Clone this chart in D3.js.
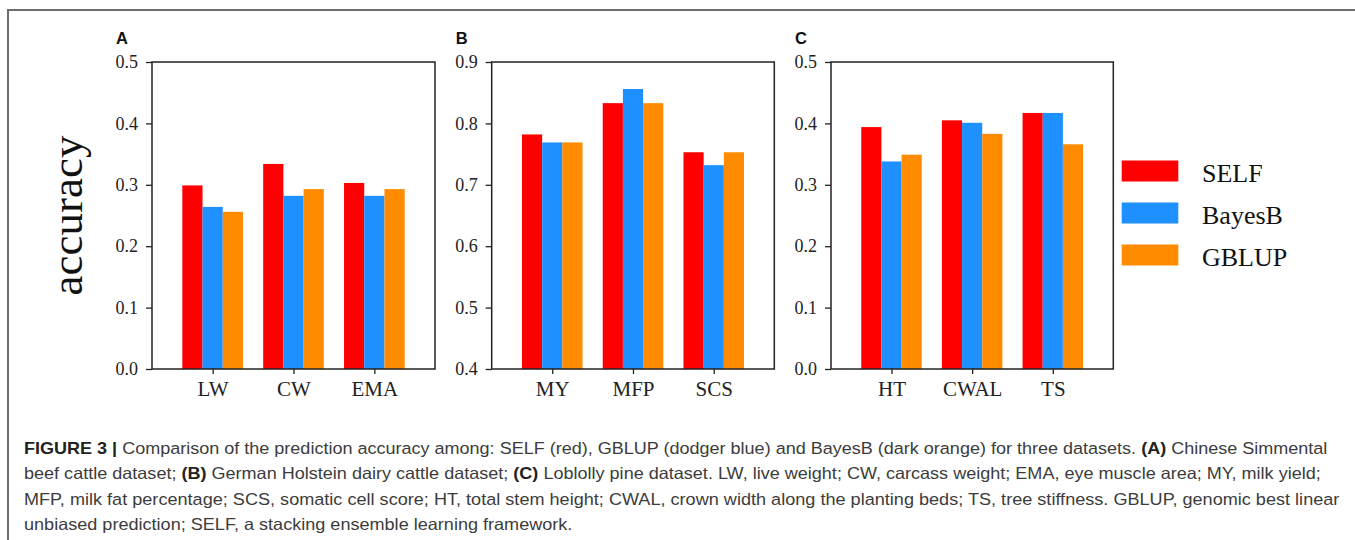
<!DOCTYPE html>
<html>
<head>
<meta charset="utf-8">
<script src="https://cdn.jsdelivr.net/npm/d3@7/dist/d3.min.js"></script>
<style>
  html, body { margin: 0; padding: 0; background: #fff; }
  svg { display: block; }
</style>
</head>
<body>
<svg id="fig" width="1355" height="540"></svg>
<script>
// Series shown in every panel
const seriesNames = ["SELF", "BayesB", "GBLUP"];
const seriesColors = ["#ff0000", "#1e90ff", "#ff8c00"];

// (A) Chinese Simmental beef cattle
const traitsA = ["LW", "CW", "EMA"];
const selfA   = [0.299, 0.334, 0.303];
const bayesA  = [0.264, 0.282, 0.282];
const gblupA  = [0.256, 0.293, 0.293];
const ticksA  = [0.0, 0.1, 0.2, 0.3, 0.4, 0.5];

// (B) German Holstein dairy cattle
const traitsB = ["MY", "MFP", "SCS"];
const selfB   = [0.782, 0.833, 0.753];
const bayesB  = [0.769, 0.856, 0.732];
const gblupB  = [0.769, 0.833, 0.753];
const ticksB  = [0.4, 0.5, 0.6, 0.7, 0.8, 0.9];

// (C) Loblolly pine
const traitsC = ["HT", "CWAL", "TS"];
const selfC   = [0.394, 0.405, 0.417];
const bayesC  = [0.338, 0.401, 0.417];
const gblupC  = [0.349, 0.383, 0.366];
const ticksC  = [0.0, 0.1, 0.2, 0.3, 0.4, 0.5];

const panels = [
  { letter: "A", traits: traitsA, values: [selfA, bayesA, gblupA], ticks: ticksA, left: 152,   right: 435 },
  { letter: "B", traits: traitsB, values: [selfB, bayesB, gblupB], ticks: ticksB, left: 491.7, right: 774.3 },
  { letter: "C", traits: traitsC, values: [selfC, bayesC, gblupC], ticks: ticksC, left: 831,   right: 1113.3 }
];

// caption text, split into lines; each part is [text, bold]
const captionLines = [
  [["FIGURE 3 | ", true], ["Comparison of the prediction accuracy among: SELF (red), GBLUP (dodger blue) and BayesB (dark orange) for three datasets. ", false], ["(A)", true], [" Chinese Simmental", false]],
  [["beef cattle dataset; ", false], ["(B)", true], [" German Holstein dairy cattle dataset; ", false], ["(C)", true], [" Loblolly pine dataset. LW, live weight; CW, carcass weight; EMA, eye muscle area; MY, milk yield;", false]],
  [["MFP, milk fat percentage; SCS, somatic cell score; HT, total stem height; CWAL, crown width along the planting beds; TS, tree stiffness. GBLUP, genomic best linear", false]],
  [["unbiased prediction; SELF, a stacking ensemble learning framework.", false]]
];
// right end of each caption line
const captionEnds = [1327, 1320, 1338, 572];

const svg = d3.select("#fig");
const serif = "'Liberation Serif', 'Times New Roman', serif";
const plotTop = 62, plotBottom = 369;
const barW = 0.25;

// Figure frame (top and left rules)
svg.append("path")
  .attr("d", "M8,540 V10 H1355")
  .attr("fill", "none")
  .attr("stroke", "#6e6e6e")
  .attr("stroke-width", 2);

panels.forEach(p => {
  const x = d3.scaleLinear().domain([-0.75, p.traits.length - 0.25]).range([p.left, p.right]);
  const y = d3.scaleLinear().domain([p.ticks[0], p.ticks[p.ticks.length - 1]]).range([plotBottom, plotTop]);
  const g = svg.append("g");

  // bars: one group per trait, three adjacent bars
  p.values.forEach((vals, si) => {
    g.selectAll(null)
      .data(vals)
      .enter().append("rect")
      .attr("x", (d, i) => x(i + (si - 1) * barW - barW / 2))
      .attr("width", x(barW) - x(0))
      .attr("y", d => y(d))
      .attr("height", d => y(p.ticks[0]) - y(d))
      .attr("fill", seriesColors[si]);
  });

  // y axis
  const ya = g.append("g")
    .attr("transform", `translate(${p.left},0)`)
    .call(d3.axisLeft(y).tickValues(p.ticks).tickFormat(d3.format(".1f")).tickSize(6).tickPadding(8));
  ya.select(".domain").remove();
  ya.selectAll("text").attr("font-family", serif).attr("font-size", 18).attr("fill", "#222");
  ya.selectAll("line").attr("stroke", "#222").attr("stroke-width", 1.3);

  // x axis
  const xa = g.append("g")
    .attr("transform", `translate(0,${plotBottom})`)
    .call(d3.axisBottom(x).tickValues(d3.range(p.traits.length)).tickFormat(i => p.traits[i]).tickSize(5).tickPadding(7));
  xa.select(".domain").remove();
  xa.selectAll("text").attr("font-family", serif).attr("font-size", 21).attr("fill", "#222");
  xa.selectAll("line").attr("stroke", "#222").attr("stroke-width", 1.3);

  // plot frame
  g.append("rect")
    .attr("x", p.left).attr("y", plotTop)
    .attr("width", p.right - p.left).attr("height", plotBottom - plotTop)
    .attr("fill", "none").attr("stroke", "#222").attr("stroke-width", 1.5);

  // panel letter
  svg.append("text")
    .attr("x", p.left - 36).attr("y", 43.5)
    .attr("font-family", "'Liberation Sans', Arial, sans-serif")
    .attr("font-weight", "bold").attr("font-size", 16.5).attr("fill", "#111")
    .text(p.letter);
});

// shared y-axis title
svg.append("text")
  .attr("transform", `translate(82,${(plotTop + plotBottom) / 2}) rotate(-90)`)
  .attr("text-anchor", "middle")
  .attr("font-family", serif).attr("font-size", 45).attr("fill", "#111")
  .text("accuracy");

// legend
const legend = svg.append("g");
seriesNames.forEach((name, i) => {
  const yb = 181.5 + i * 42;
  legend.append("rect")
    .attr("x", 1121.7).attr("y", yb - 21).attr("width", 56.6).attr("height", 21)
    .attr("fill", seriesColors[i]);
  legend.append("text")
    .attr("x", 1202).attr("y", yb)
    .attr("font-family", serif).attr("font-size", 26).attr("fill", "#111")
    .text(name);
});

// caption: each line is widened horizontally to its set right end
const captionX = 24;
captionLines.forEach((parts, li) => {
  const t = svg.append("text")
    .attr("x", 0).attr("y", 0)
    .attr("font-family", "'Liberation Sans', Arial, sans-serif")
    .attr("font-size", 16.3).attr("fill", "#3c3c3c")
    .attr("xml:space", "preserve");
  parts.forEach(([s, b]) => {
    t.append("tspan")
      .attr("font-weight", b ? "bold" : "normal")
      .attr("fill", b ? "#222" : "#3c3c3c")
      .text(s);
  });
  const natural = t.node().getComputedTextLength();
  const sx = (captionEnds[li] - captionX) / natural;
  t.attr("transform", `translate(${captionX},${454 + li * 25.3}) scale(${sx},1)`);
});
</script>
</body>
</html>
